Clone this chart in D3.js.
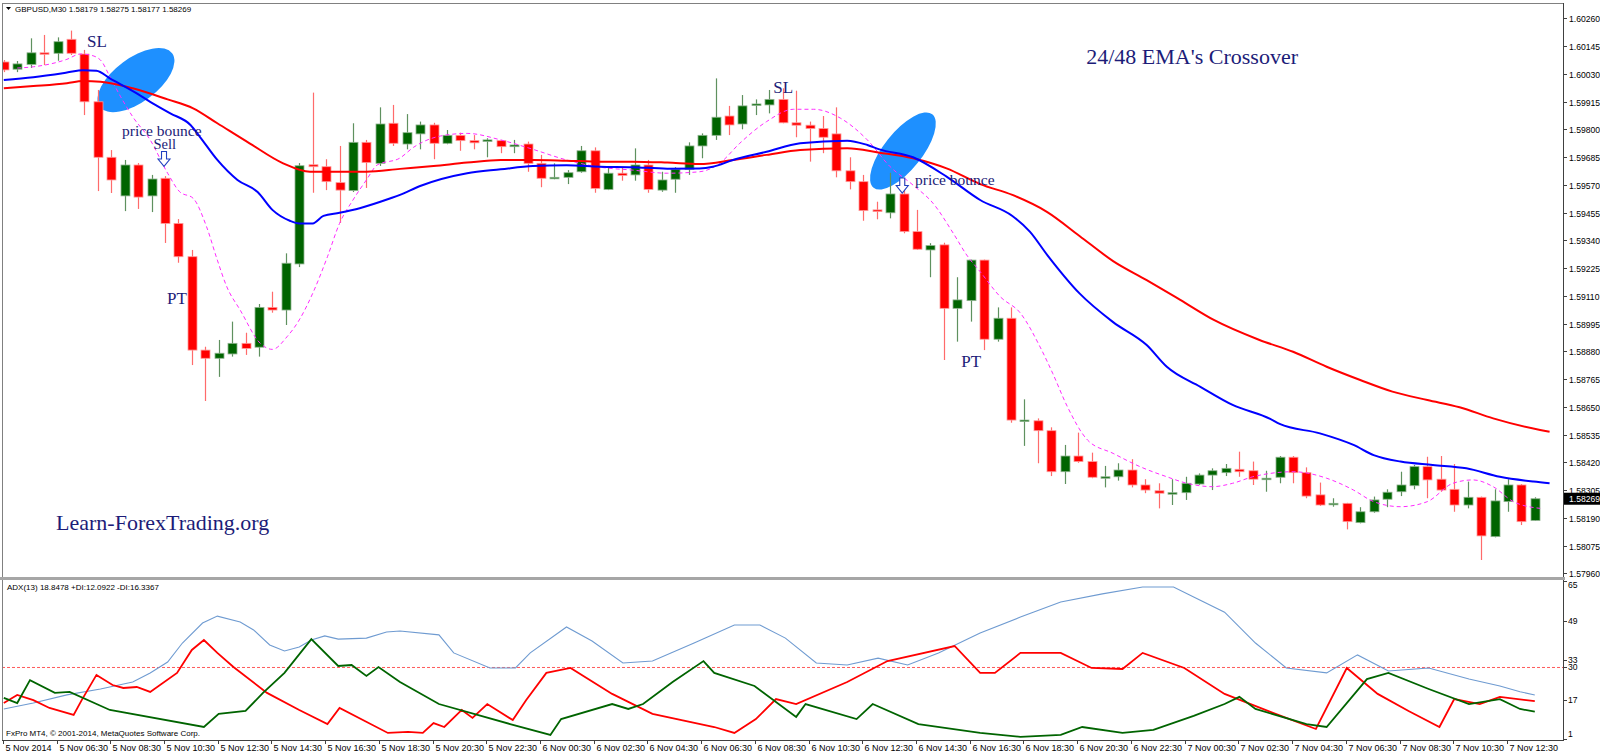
<!DOCTYPE html>
<html><head><meta charset="utf-8">
<script src="https://cdn.jsdelivr.net/npm/d3@7"></script>
<style>body{margin:0;background:#fff;overflow:hidden}svg{display:block}</style>
</head><body><svg id="c" width="1600" height="755"></svg>
<script>
// ---------------- DATA ----------------
const timeLabels = ["5 Nov 2014","5 Nov 06:30","5 Nov 08:30","5 Nov 10:30","5 Nov 12:30","5 Nov 14:30","5 Nov 16:30","5 Nov 18:30","5 Nov 20:30","5 Nov 22:30","6 Nov 00:30","6 Nov 02:30","6 Nov 04:30","6 Nov 06:30","6 Nov 08:30","6 Nov 10:30","6 Nov 12:30","6 Nov 14:30","6 Nov 16:30","6 Nov 18:30","6 Nov 20:30","6 Nov 22:30","7 Nov 00:30","7 Nov 02:30","7 Nov 04:30","7 Nov 06:30","7 Nov 08:30","7 Nov 10:30","7 Nov 12:30"];
const timeLabelBars = [0,4,8,12,16,20,24,28,32,36,40,44,48,52,56,60,64,68,72,76,80,84,88,92,96,100,104,108,112];
const priceTicks = ["1.60260","1.60145","1.60030","1.59915","1.59800","1.59685","1.59570","1.59455","1.59340","1.59225","1.59110","1.58995","1.58880","1.58765","1.58650","1.58535","1.58420","1.58305","1.58190","1.58075","1.57960"];
const adxTicks = [65,49,33,30,17,1];
const adxLevel = 30;

const open = [1.60079,1.60049,1.60069,1.60117,1.60115,1.60173,1.60112,1.59914,1.59684,1.59524,1.59652,1.59524,1.59597,1.59410,1.59272,1.58885,1.58851,1.58869,1.58913,1.58897,1.59062,1.59051,1.59242,1.59653,1.59645,1.59579,1.59546,1.59746,1.59659,1.59825,1.59739,1.59781,1.59818,1.59742,1.59775,1.59753,1.59750,1.59753,1.59728,1.59739,1.59659,1.59597,1.59601,1.59624,1.59711,1.59551,1.59618,1.59611,1.59652,1.59548,1.59593,1.59634,1.59731,1.59775,1.59855,1.59822,1.59901,1.59901,1.59924,1.59827,1.59817,1.59803,1.59781,1.59628,1.59583,1.59466,1.59454,1.59532,1.59376,1.59300,1.59321,1.59058,1.59090,1.59258,1.58930,1.59017,1.58590,1.58592,1.58551,1.58381,1.58446,1.58423,1.58356,1.58360,1.58388,1.58326,1.58302,1.58289,1.58294,1.58330,1.58367,1.58377,1.58391,1.58385,1.58350,1.58358,1.58441,1.58377,1.58285,1.58246,1.58250,1.58170,1.58215,1.58267,1.58298,1.58323,1.58402,1.58350,1.58308,1.58243,1.58275,1.58112,1.58257,1.58326,1.58179];
const high = [1.60087,1.60083,1.60177,1.60191,1.60181,1.60209,1.60129,1.59963,1.59714,1.59673,1.59660,1.59611,1.59606,1.59428,1.59300,1.58899,1.58927,1.59003,1.58957,1.59076,1.59127,1.59286,1.59660,1.59952,1.59676,1.59731,1.59825,1.59756,1.59891,1.59901,1.59863,1.59832,1.59827,1.59797,1.59786,1.59776,1.59763,1.59756,1.59756,1.59749,1.59694,1.59659,1.59631,1.59731,1.59725,1.59645,1.59643,1.59721,1.59673,1.59624,1.59643,1.59746,1.59783,1.60011,1.59897,1.59942,1.59924,1.59963,1.59970,1.59960,1.59832,1.59855,1.59891,1.59684,1.59611,1.59500,1.59620,1.59590,1.59466,1.59328,1.59330,1.59187,1.59260,1.59260,1.59062,1.59062,1.58681,1.58602,1.58565,1.58492,1.58543,1.58460,1.58405,1.58416,1.58433,1.58350,1.58333,1.58350,1.58360,1.58374,1.58395,1.58413,1.58464,1.58423,1.58385,1.58446,1.58446,1.58399,1.58336,1.58271,1.58252,1.58234,1.58278,1.58308,1.58381,1.58409,1.58443,1.58446,1.58413,1.58340,1.58278,1.58308,1.58350,1.58330,1.58275];
const low = [1.60037,1.60037,1.60054,1.60066,1.60084,1.60108,1.59859,1.59544,1.59536,1.59461,1.59470,1.59457,1.59329,1.59247,1.58823,1.58674,1.58774,1.58858,1.58865,1.58858,1.59040,1.58989,1.59229,1.59537,1.59548,1.59412,1.59540,1.59557,1.59648,1.59731,1.59717,1.59717,1.59676,1.59738,1.59711,1.59717,1.59684,1.59701,1.59701,1.59624,1.59560,1.59593,1.59573,1.59620,1.59537,1.59548,1.59587,1.59587,1.59537,1.59541,1.59537,1.59611,1.59680,1.59756,1.59776,1.59800,1.59859,1.59866,1.59825,1.59767,1.59666,1.59701,1.59601,1.59551,1.59421,1.59427,1.59431,1.59369,1.59300,1.59187,1.58844,1.58920,1.59003,1.58885,1.58920,1.58584,1.58488,1.58416,1.58363,1.58330,1.58418,1.58354,1.58316,1.58344,1.58316,1.58292,1.58229,1.58243,1.58264,1.58326,1.58305,1.58363,1.58360,1.58326,1.58298,1.58333,1.58333,1.58271,1.58239,1.58236,1.58142,1.58167,1.58211,1.58234,1.58280,1.58308,1.58271,1.58298,1.58215,1.58229,1.58015,1.58109,1.58215,1.58160,1.58177];
const close = [1.60046,1.60071,1.60117,1.60112,1.60163,1.60115,1.59914,1.59684,1.59590,1.59652,1.59519,1.59594,1.59410,1.59272,1.58885,1.58851,1.58872,1.58913,1.58892,1.59062,1.59051,1.59245,1.59649,1.59645,1.59583,1.59548,1.59746,1.59662,1.59822,1.59742,1.59786,1.59818,1.59742,1.59775,1.59753,1.59744,1.59756,1.59728,1.59735,1.59659,1.59597,1.59601,1.59620,1.59711,1.59555,1.59618,1.59609,1.59652,1.59551,1.59590,1.59634,1.59731,1.59775,1.59850,1.59818,1.59897,1.59905,1.59924,1.59827,1.59817,1.59803,1.59767,1.59628,1.59583,1.59463,1.59459,1.59532,1.59376,1.59303,1.59318,1.59058,1.59093,1.59258,1.58930,1.59017,1.58595,1.58595,1.58551,1.58381,1.58446,1.58423,1.58358,1.58360,1.58388,1.58326,1.58305,1.58292,1.58294,1.58333,1.58367,1.58385,1.58395,1.58381,1.58350,1.58354,1.58441,1.58377,1.58280,1.58243,1.58250,1.58174,1.58215,1.58264,1.58296,1.58326,1.58402,1.58347,1.58305,1.58243,1.58275,1.58115,1.58260,1.58326,1.58174,1.58269];

// 24 EMA (blue)
const emaFastBars = [0,2.2,4.7,5.9,6.9,7.9,9.9,10.9,12.4,13.9,14.6,15.9,17.4,18.9,20,21.3,22,23,23.8,25,26.5,28.8,29.5,31,34.5,37,39.4,41.9,44.4,46.8,49.4,51.8,52.8,54.3,56.8,59.3,62.8,64.3,65.2,67.7,70.2,72.7,75.1,76.4,77.7,80.1,82.6,85.1,86.6,89.1,91.5,94.3,95,98,100.5,102,104,106.4,108.9,111.4,113.9,115.1];
const emaFast = [1.60004,1.60016,1.60035,1.60045,1.60043,1.60011,1.59949,1.59914,1.59866,1.59818,1.59769,1.59673,1.59590,1.59540,1.59466,1.59421,1.59410,1.59410,1.59441,1.59454,1.59473,1.59514,1.59528,1.59565,1.59618,1.59634,1.59648,1.59651,1.59645,1.59643,1.59637,1.59638,1.59645,1.59673,1.59707,1.59742,1.59753,1.59735,1.59717,1.59684,1.59604,1.59507,1.59441,1.59376,1.59279,1.59120,1.59001,1.58906,1.58816,1.58733,1.58658,1.58600,1.58579,1.58540,1.58492,1.58450,1.58423,1.58409,1.58395,1.58360,1.58340,1.58333];
// 48 EMA (red)
const emaSlowBars = [0,2.2,4.7,5.9,7.2,9.6,12.2,14.1,15.9,18.3,20.8,22.8,24.5,27,29.5,32,34.5,37,39.4,41.9,44.4,46.8,49.4,51.8,54.3,56.8,59.3,62.8,65.2,67.7,70.2,72.7,75.1,77.7,80.1,82.6,85.1,87.6,90.1,93.5,96,98.5,101,103.4,106,108.4,110.9,114.4,115.1];
const emaSlow = [1.59970,1.59979,1.59991,1.60000,1.59997,1.59970,1.59924,1.59887,1.59825,1.59742,1.59659,1.59624,1.59624,1.59624,1.59636,1.59648,1.59662,1.59673,1.59673,1.59670,1.59666,1.59666,1.59662,1.59656,1.59673,1.59694,1.59714,1.59721,1.59703,1.59680,1.59638,1.59573,1.59528,1.59457,1.59358,1.59254,1.59175,1.59093,1.59010,1.58927,1.58878,1.58816,1.58761,1.58713,1.58678,1.58648,1.58602,1.58554,1.58547];
// short MA (magenta dashed)
const maShortBars = [1,2.2,4.7,5.7,6.4,7.2,7.9,8.7,9.6,10.9,12.2,13.1,14.1,15.1,15.9,16.6,17.6,19.1,20,21.1,22,23,24.1,25,26,27,27.8,29.5,30.5,32.5,34.5,37,39.4,41.9,44.4,46.8,49.4,51.8,53.3,54.8,56.8,58.8,60.3,62.3,64.3,66,67.7,69.2,70.7,71.7,72.7,74.2,75.7,77.2,78.1,79.2,80.7,82.6,84.6,86.6,88.1,90,91.5,93,94.3,96,98.5,100.5,102,104,106,107.9,109.4,110.9,112.4,114.4];
const maShort = [1.60054,1.60059,1.60090,1.60112,1.60108,1.60087,1.60018,1.59935,1.59852,1.59756,1.59618,1.59541,1.59514,1.59396,1.59258,1.59148,1.59051,1.58913,1.58888,1.58941,1.59010,1.59120,1.59272,1.59410,1.59507,1.59590,1.59652,1.59681,1.59725,1.59772,1.59783,1.59756,1.59717,1.59673,1.59643,1.59631,1.59618,1.59624,1.59659,1.59742,1.59832,1.59883,1.59883,1.59846,1.59756,1.59645,1.59569,1.59493,1.59369,1.59279,1.59210,1.59106,1.59038,1.58894,1.58789,1.58650,1.58512,1.58457,1.58402,1.58360,1.58333,1.58319,1.58333,1.58360,1.58374,1.58381,1.58354,1.58305,1.58257,1.58236,1.58257,1.58333,1.58347,1.58319,1.58257,1.58229];

// ADX(13) panel
const adxBars = [0,2.2,4.7,7.2,9.6,10.9,12.2,13.3,14.8,15.9,17.6,18.6,19.8,20.9,22,22.9,23.9,24.9,27,28.5,29.5,32.4,33.5,36.2,38.1,39.2,41.9,43.8,46.1,48.3,51.4,54.4,56.3,58.2,60.5,62.8,65.1,67.3,69.6,72.7,75.7,78.7,81.8,84.8,87.1,88.6,90.9,93.2,95.5,98.5,100.8,103.1,106.1,109.1,111.4,112.9,114];
const adx = [13.2,15.6,18.9,21.3,24.1,27.8,32.2,39.9,48,50.8,48.4,45.2,39.1,36.7,38.3,41.1,42.8,41.5,41.9,44.4,44.8,43.2,35.9,29.8,29.8,35.9,46.4,40.7,31.8,32.6,39.9,47.2,47.2,41.9,31.8,31,33.8,31,35.9,44,50.4,56.5,59.8,62.6,62.6,58.5,52.4,39.9,29.8,27.8,35.1,28.6,29.8,25.3,22.5,20.2,18.85];
const plusDiBars = [0,1,1.95,3.8,4.9,7.9,14.9,16,18,19.3,20.9,22.9,24.9,25.9,27,27.9,29.5,32.4,37.7,40.7,41.5,45.3,46.5,47.6,49.8,52.1,52.9,55.9,59,59.7,63.5,64.7,68.1,72.7,75.7,78.7,80.3,83.3,85.6,88.6,90.9,92,93.2,97,98.5,101.5,103.1,106.1,109.1,111.4,112.9,114];
const plusDi = [17.7,15.6,24.9,19.7,20.1,12.8,5.9,11.2,12.4,19.7,27.8,41.5,30.6,31,26.6,30.2,24.1,15.2,7.1,2.7,9.1,15.2,13.2,15.2,24.1,32.6,27.8,22.5,10,15.2,9.1,15.2,7.1,3.5,1.9,2.7,5.9,3.5,4.7,10.4,15.2,18.1,13.2,7.1,5.9,25.3,27.8,21.3,15.2,17.2,13.2,12.09];
const minusDiBars = [0,1,2.2,3.4,5.2,5.8,6.9,8.1,8.9,9.9,10.9,12.9,14,14.9,15.9,17.1,19.6,22,24.1,25,28.6,30.1,31.2,32,32.8,34.1,34.9,36,37.9,38.9,40.4,42.2,45.3,48.3,52.9,54.4,56,57.5,59,62.8,65.8,70.8,72.7,73.8,75.7,78.7,81,83.3,84.8,87.9,90.9,94.7,97.7,100,102.3,104.6,106.9,108,109.9,111.4,114];
const minusDi = [15.6,18.9,16.8,13.6,10.8,16.8,27,22.9,21.7,22.1,20.1,27.8,37.1,41.1,35.9,30.2,19.7,12.8,7.1,13.6,3.5,3.9,3.5,7.5,5.9,12.8,9.6,15.2,8.7,16.8,27.8,29.8,19.3,11.2,5.9,3.5,9.1,17.2,15.2,24.1,32.6,38.7,27.8,27.8,35.9,35.9,29.8,29.4,35.9,29.8,19.3,11.2,5.1,29.8,19.3,12.4,5.9,17.2,15.2,18.1,16.34];

// ---------------- LAYOUT ----------------
const W = 1600, H = 755;
const L = 2, R = 1563, mainTop = 3, mainBot = 577, indTop = 580, indBot = 740;
const svg = d3.select("#c");
const x = d3.scaleLinear().domain([0, 114]).range([3.8, 1534.8]);
const y = d3.scaleLinear().domain([1.57960, 1.60260]).range([573.3, 18.3]);
const yi = d3.scaleLinear().domain([1, 65]).range([739.1, 581.05]);
const sans = "'Liberation Sans', Arial, sans-serif";
const serif = "'Liberation Serif', 'Times New Roman', serif";

svg.append("rect").attr("width", W).attr("height", H).attr("fill", "#fff");
const defs = svg.append("defs");
defs.append("clipPath").attr("id", "cm").append("rect").attr("x", L + 1).attr("y", mainTop + 1).attr("width", R - L - 1).attr("height", mainBot - mainTop - 1);
defs.append("clipPath").attr("id", "ci").append("rect").attr("x", L + 1).attr("y", indTop).attr("width", R - L - 1).attr("height", indBot - indTop);

const gm = svg.append("g").attr("clip-path", "url(#cm)");
const gi = svg.append("g").attr("clip-path", "url(#ci)");

// blue ellipses (background objects)
const ellipses = [{bar: 9.84, price: 1.60004, rx: 45, ry: 22, rot: -36.5}, {bar: 66.95, price: 1.59710, rx: 47, ry: 19, rot: -51.4}];
gm.selectAll("ellipse.e").data(ellipses).join("ellipse")
  .attr("transform", d => `translate(${x(d.bar)},${y(d.price)}) rotate(${d.rot})`)
  .attr("rx", d => d.rx).attr("ry", d => d.ry).attr("fill", "#1e90ff");

// candles
const bars = d3.range(open.length).map(i => ({i, o: open[i], h: high[i], l: low[i], c: close[i], up: close[i] >= open[i]}));
const cg = gm.append("g");
cg.selectAll("line.w").data(bars).join("line")
  .attr("x1", d => Math.round(x(d.i)) + 0.5).attr("x2", d => Math.round(x(d.i)) + 0.5)
  .attr("y1", d => y(d.h)).attr("y2", d => y(d.l))
  .attr("stroke", d => d.up ? "#5f915f" : "#ff6b6b").attr("stroke-width", 1.2);
cg.selectAll("rect.b").data(bars).join("rect")
  .attr("x", d => Math.round(x(d.i)) - 4).attr("width", 9)
  .attr("y", d => Math.min(y(d.o), y(d.c)))
  .attr("height", d => Math.max(1.5, Math.abs(y(d.o) - y(d.c))))
  .attr("fill", d => d.up ? "#006400" : "#ff0000")
  .attr("stroke", d => d.up ? "#8fb38f" : "#ff9a9a").attr("stroke-width", 0.8);

// moving averages
const mkLine = (bs, vs) => d3.line().x((d, k) => x(bs[k])).y(d => y(d)).curve(d3.curveMonotoneX)(vs);
gm.append("path").attr("d", mkLine(maShortBars, maShort)).attr("fill", "none").attr("stroke", "#ff2bff").attr("stroke-width", 1).attr("stroke-dasharray", "4,3");
gm.append("path").attr("d", mkLine(emaSlowBars, emaSlow)).attr("fill", "none").attr("stroke", "#ff0000").attr("stroke-width", 2);
gm.append("path").attr("d", mkLine(emaFastBars, emaFast)).attr("fill", "none").attr("stroke", "#0000ff").attr("stroke-width", 2);

// annotations
const navy = "#1c1c78";
const notes = [
  {t: "SL", bar: 6.2, price: 1.60166, size: 17},
  {t: "price bounce", bar: 8.8, price: 1.59795, size: 15.5},
  {t: "Sell", bar: 11.15, price: 1.59737, size: 14.5},
  {t: "PT", bar: 12.15, price: 1.59099, size: 17},
  {t: "SL", bar: 57.3, price: 1.59975, size: 17},
  {t: "price bounce", bar: 67.85, price: 1.59590, size: 15.5},
  {t: "PT", bar: 71.3, price: 1.58840, size: 17},
  {t: "24/48 EMA's Crossover", bar: 80.6, price: 1.60100, size: 22},
  {t: "Learn-ForexTrading.org", bar: 3.89, price: 1.58169, size: 22}
];
gm.selectAll("text.n").data(notes).join("text")
  .attr("x", d => x(d.bar)).attr("y", d => y(d.price)).attr("dy", "0.34em")
  .attr("font-family", serif).attr("font-size", d => d.size).attr("fill", navy).text(d => d.t);

// hollow down arrows
const arrows = [{bar: 11.93, top: 1.59708, bot: 1.59646}, {bar: 66.9, top: 1.59598, bot: 1.59536}];
gm.selectAll("path.ar").data(arrows).join("path")
  .attr("d", d => {
    const cx = x(d.bar), t = y(d.top), b = y(d.bot), h = b - t;
    return `M${cx-2.5},${t} L${cx+2.5},${t} L${cx+2.5},${t+h*0.5} L${cx+6},${t+h*0.5} L${cx},${b} L${cx-6},${t+h*0.5} L${cx-2.5},${t+h*0.5} Z`;
  })
  .attr("fill", "#fff").attr("stroke", "#2040c0").attr("stroke-width", 1.1);

// ---------------- INDICATOR ----------------
gi.append("line").attr("x1", L).attr("x2", R).attr("y1", yi(adxLevel)).attr("y2", yi(adxLevel))
  .attr("stroke", "#ff5a5a").attr("stroke-width", 1).attr("stroke-dasharray", "3,2");
const mkI = (bs, vs) => d3.line().x((d, k) => x(bs[k])).y(d => yi(d))(vs);
gi.append("path").attr("d", mkI(adxBars, adx)).attr("fill", "none").attr("stroke", "#6f9bd1").attr("stroke-width", 1.1);
gi.append("path").attr("d", mkI(minusDiBars, minusDi)).attr("fill", "none").attr("stroke", "#ff0000").attr("stroke-width", 1.8);
gi.append("path").attr("d", mkI(plusDiBars, plusDi)).attr("fill", "none").attr("stroke", "#006400").attr("stroke-width", 1.8);

// ---------------- FRAME & AXES ----------------
const fr = svg.append("g").attr("fill", "none");
fr.append("line").attr("x1", L).attr("x2", R).attr("y1", mainTop + 0.5).attr("y2", mainTop + 0.5).attr("stroke", "#808080");
fr.append("line").attr("x1", L + 0.5).attr("x2", L + 0.5).attr("y1", mainTop).attr("y2", indBot).attr("stroke", "#808080");
fr.append("line").attr("x1", R + 0.5).attr("x2", R + 0.5).attr("y1", mainTop).attr("y2", indBot + 1).attr("stroke", "#404040");
fr.append("line").attr("x1", L).attr("x2", R).attr("y1", indBot + 0.5).attr("y2", indBot + 0.5).attr("stroke", "#404040");
svg.append("rect").attr("x", 0).attr("y", mainBot).attr("width", R + 2).attr("height", 3).attr("fill", "#a6a6a6");

// price axis
const pa = svg.append("g");
priceTicks.forEach(t => {
  const yy = Math.round(y(+t)) + 0.5;
  pa.append("line").attr("x1", R).attr("x2", R + 4).attr("y1", yy).attr("y2", yy).attr("stroke", "#404040");
  pa.append("text").attr("x", R + 6).attr("y", yy).attr("dy", "0.35em").attr("font-family", sans).attr("font-size", 8.6).attr("fill", "#000").text(t);
});
// current price box
const cp = close[close.length - 1];
pa.append("rect").attr("x", R + 1).attr("y", y(cp) - 6).attr("width", W - R - 1).attr("height", 12).attr("fill", "#000");
pa.append("text").attr("x", R + 6).attr("y", y(cp)).attr("dy", "0.35em").attr("font-family", sans).attr("font-size", 8.6).attr("fill", "#fff").text(cp.toFixed(5));

// indicator axis
adxTicks.forEach(v => {
  const yy = Math.round(yi(v)) + 0.5;
  const ty = Math.max(585, Math.min(734, yi(v)));
  pa.append("line").attr("x1", R).attr("x2", R + 4).attr("y1", yy).attr("y2", yy).attr("stroke", "#404040");
  pa.append("text").attr("x", R + 5).attr("y", ty).attr("dy", "0.35em").attr("font-family", sans).attr("font-size", 8.6).attr("fill", "#000").text(v);
});

// time axis
const ta = svg.append("g");
timeLabelBars.forEach((b, k) => {
  const xx = Math.round(x(b)) - 0.5;
  ta.append("line").attr("x1", xx).attr("x2", xx).attr("y1", indBot).attr("y2", indBot + 4).attr("stroke", "#404040");
  ta.append("text").attr("x", xx + 2).attr("y", 751).attr("font-family", sans).attr("font-size", 9).attr("fill", "#000").text(timeLabels[k]);
});

// header texts
svg.append("path").attr("d", "M6,7 L11,7 L8.5,10 Z").attr("fill", "#000");
svg.append("text").attr("x", 15).attr("y", 12).attr("font-family", sans).attr("font-size", 8).attr("fill", "#000")
  .text("GBPUSD,M30  " + [open[114], high[114], low[114], close[114]].map(v => v.toFixed(5)).join(" "));
svg.append("text").attr("x", 7).attr("y", 590).attr("font-family", sans).attr("font-size", 8).attr("fill", "#000")
  .text("ADX(13) 18.8478 +DI:12.0922 -DI:16.3367");
svg.append("text").attr("x", 6).attr("y", 736).attr("font-family", sans).attr("font-size", 8).attr("fill", "#000")
  .text("FxPro MT4, © 2001-2014, MetaQuotes Software Corp.");
</script>
</body></html>
